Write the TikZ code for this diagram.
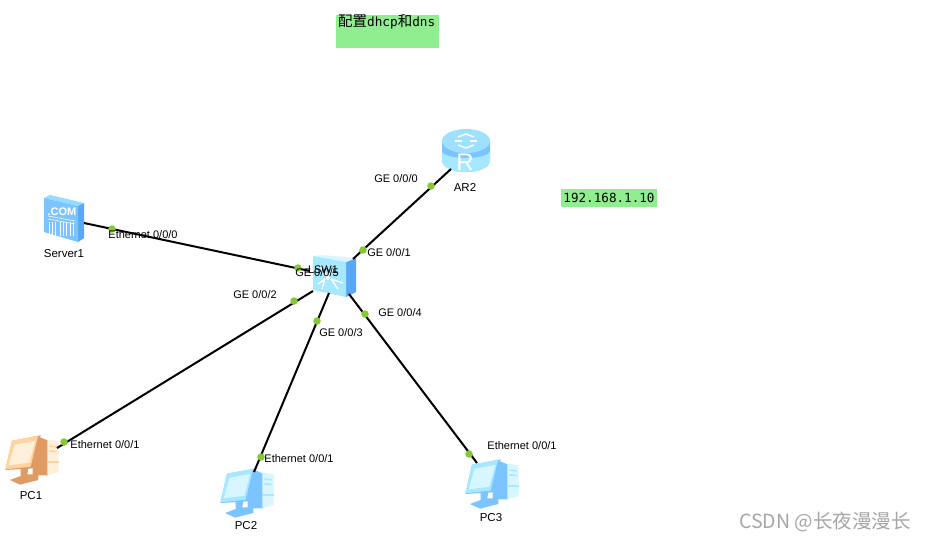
\documentclass[tikz,border=0pt]{standalone}
\usepackage{fontspec}
\setmainfont{Liberation Sans}
\newfontfamily\cjkfont{Noto Sans CJK SC}
\newfontfamily\monofont{DejaVu Sans Mono}
\definecolor{notegreen}{HTML}{90EE90}
\definecolor{dotgreen}{HTML}{86C832}
\definecolor{bluea}{HTML}{A6E8FF}
\definecolor{blueb}{HTML}{7CC4FF}
\definecolor{bluec}{HTML}{D8F6FF}
\definecolor{blued}{HTML}{5AA8F5}
\definecolor{orangea}{HTML}{FFD2A0}
\definecolor{orangeb}{HTML}{E8A06C}
\definecolor{orangec}{HTML}{FFF0DC}
\definecolor{oranged}{HTML}{E09A64}
\tikzset{
  lbl/.style={font=\fontsize{11}{13}\selectfont,inner sep=0pt,text=black,yshift=-1pt},
  devlbl/.style={font=\fontsize{11.5}{13}\selectfont,inner sep=0pt,text=black,yshift=-1pt},
  notebox/.style={fill=notegreen,inner sep=0pt,anchor=north west},
  link/.style={draw=black,line width=2pt},
  portdot/.style={circle,fill=dotgreen,draw=none,minimum size=7.5pt,inner sep=0pt},
  pics/pcicon/.style n args={4}{code={
    \begin{scope}[scale=0.3333]
    % tower
    \fill[#2] (145,92) -- (175,104) -- (175,208) -- (128,208) -- (128,190) -- cycle;
    \fill[#3] (172,100) -- (206,106) -- (206,198) -- (172,208) -- cycle;
    \fill[#1] (178,118) -- (200,120) -- (200,125) -- (178,123) -- cycle;
    \fill[#1] (178,132) -- (200,134) -- (200,139) -- (178,137) -- cycle;
    \fill[#1] (172,165) -- (206,165) -- (206,171) -- (172,171) -- cycle;
    % stand
    \fill[#2] (60,222) -- (92,210) -- (92,188) -- (115,185) -- (112,205) -- (145,205) -- (145,222) -- (90,236) -- cycle;
    % monitor
    \fill[#2] (66,105) -- (152,88) -- (130,187) -- (46,192) -- cycle;
    \fill[#1] (66,103) -- (144,90) -- (122,182) -- (46,190) -- cycle;
    \fill[#3] (74,116) -- (136,105) -- (118,170) -- (56,178) -- cycle;
    \end{scope}
  }}
}
\begin{document}
\begin{tikzpicture}[x=1pt,y=-1pt]
\useasboundingbox[fill=white] (0,0) rectangle (926,541);

% notes
\node[notebox,minimum width=103pt,minimum height=33pt] (noteA) at (336,15) {};
\node[inner sep=0pt,anchor=west] (noteAtxt) at (338,22) {\fontsize{14.5}{16}\cjkfont 配置\fontsize{12.7}{14}\monofont dhcp\fontsize{14.5}{16}\cjkfont 和\fontsize{12.7}{14}\monofont dns};
\node[notebox,minimum width=96pt,minimum height=18pt] (noteB) at (561,189) {};
\node[inner sep=0pt,anchor=center] (noteBtxt) at (609,198) {\fontsize{12.6}{14}\monofont 192.168.1.10};

% router icon
\fill[blueb] (442,141) -- (442,160) .. controls (442,176) and (490,176) .. (490,160) -- (490,141) -- cycle;
\fill[bluea] (442,152) .. controls (448,160) and (484,160) .. (490,152) -- (490,160) .. controls (490,176) and (442,176) .. (442,160) -- cycle;
\fill[bluea!80!blueb] (466,141) ellipse[x radius=24,y radius=12];
\node[inner sep=0pt,text=white,font=\fontsize{24}{24}\selectfont] (routerR) at (465,162) {R};
\begin{scope}[white,line width=1.5pt]
  \draw (458,137) -- (466,134) -- (474,137);
  \draw (458,145) -- (466,148) -- (474,145);
  \draw (455,141) -- (462,141);
  \draw (470,141) -- (477,141);
\end{scope}

% server icon
\fill[blued] (78,203) -- (84,203) -- (84,238) -- (78,242) -- cycle;
\fill[bluea!60!blueb] (44,198) -- (50,195) -- (84,203) -- (78,206) -- cycle;
\fill[blueb] (44,198) -- (78,206) -- (78,242) -- (44,232) -- cycle;
\node[inner sep=0pt,text=white,font=\bfseries\fontsize{11}{11}\selectfont] (srvCom) at (62,212) {.COM};
\draw[white,line width=.6pt] (48,216) -- (75,221) (48,219) -- (75,224);
\foreach \xa in {49,52,55,60,63,66,70,73}
  \draw[white,line width=.7pt] (\xa,222) -- (\xa,236);

% switch icon
\fill[blued] (346,262) -- (356,258) -- (356,292) -- (346,297) -- cycle;
\fill[bluec] (313,256) -- (322,255) -- (356,258) -- (346,262) -- cycle;
\fill[bluea] (313,256) -- (346,262) -- (346,297) -- (313,290) -- cycle;
\begin{scope}[white,line width=1.4pt]
  \draw (320,266) -- (327,276) (334,268) -- (327,276);
  \draw (318,284) -- (325,279) (322,289) -- (325,279);
  \draw (338,289) -- (331,279) (343,283) -- (331,279);
  \fill (328,278) circle (2pt);
\end{scope}

% PC icons
\pic at (-10,406) {pcicon={orangea}{oranged}{orangec}{orangeb}};
\pic at (205,439) {pcicon={bluea}{blueb}{bluec}{blued}};
\pic at (450,430) {pcicon={bluea}{blueb}{bluec}{blued}};

% port ends of each device
\coordinate (srvP) at (84,223);
\coordinate (arP) at (451,169);
\coordinate (pcaP) at (57,448);
\coordinate (pcbP) at (254,472);
\coordinate (pccP) at (477,463);
\coordinate (swS) at (310,271);
\coordinate (swR) at (353,259);
\coordinate (swA) at (313,291);
\coordinate (swB) at (329,293);
\coordinate (swC) at (349,294);

% links
\draw[link] (srvP) -- (swS);
\draw[link] (arP) -- (swR);
\draw[link] (pcaP) -- (swA);
\draw[link] (pcbP) -- (swB);
\draw[link] (pccP) -- (swC);

% port dots
\foreach \nm/\px/\py in {a/112/229,b/298/268,c/431/186,d/363/250,e/64/442,f/294/301,g/261/457,h/317/321,i/469/454,j/365/314}
  \node[portdot] (dot\nm) at (\px,\py) {};

% device labels
\node[devlbl] (lblSrv) at (64,253) {Server1};
\node[devlbl] (lblAr) at (465,186) {AR2};
\node[lbl] (lblSw) at (323,269) {LSW1};
\node[devlbl] (lblPca) at (31,495) {PC1};
\node[devlbl] (lblPcb) at (246,525) {PC2};
\node[devlbl] (lblPcc) at (491,517) {PC3};

% port labels
\node[lbl] (p1) at (143,234) {Ethernet 0/0/0};
\node[lbl] (p2) at (396,178) {GE 0/0/0};
\node[lbl] (p3) at (389,252) {GE 0/0/1};
\node[lbl] (p4) at (317,272) {GE 0/0/5};
\node[lbl] (p5) at (255,294) {GE 0/0/2};
\node[lbl] (p6) at (341,332) {GE 0/0/3};
\node[lbl] (p7) at (400,312) {GE 0/0/4};
\node[lbl] (p8) at (105,444) {Ethernet 0/0/1};
\node[lbl] (p9) at (299,458) {Ethernet 0/0/1};
\node[lbl] (p10) at (522,445) {Ethernet 0/0/1};

% watermark
\node[inner sep=0pt,anchor=east,text=black!35,font=\fontsize{19.5}{22}\selectfont\cjkfont] (wm) at (911,522) {CSDN @长夜漫漫长};
\end{tikzpicture}
\end{document}
